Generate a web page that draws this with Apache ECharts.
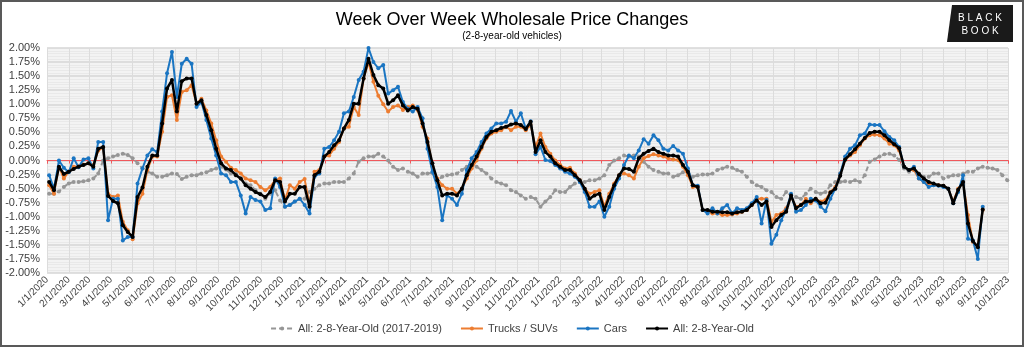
<!DOCTYPE html>
<html><head><meta charset="utf-8">
<script src="https://cdn.jsdelivr.net/npm/echarts@6/dist/echarts.min.js"></script>
<style>html,body{margin:0;padding:0;background:#fff}#c{width:1024px;height:347px}</style>
</head><body><div id="c"></div>
<script>
// Weekly observations, first week ending 2020-01-04
const firstWeekUTC = Date.UTC(2020, 0, 4);
const axisStart = Date.UTC(2020, 0, 1);
const axisEnd = Date.UTC(2023, 9, 1);

const seriesNames = ['All: 2-8-Year-Old (2017-2019)', 'Trucks / SUVs', 'Cars', 'All: 2-8-Year-Old'];
const yTicks = { min: -2, max: 2, step: 0.25 };

const allPrior = [
-0.59,-0.59,-0.55,-0.47,-0.41,-0.38,-0.38,-0.37,-0.35,-0.32,
-0.23,0.00,0.04,0.07,0.10,0.12,0.10,0.04,-0.05,-0.14,
-0.20,-0.23,-0.29,-0.29,-0.26,-0.23,-0.24,-0.33,-0.29,-0.26,
-0.26,-0.23,-0.21,-0.17,-0.14,-0.11,-0.16,-0.23,-0.23,-0.32,
-0.41,-0.44,-0.53,-0.59,-0.68,-0.59,-0.53,-0.71,-0.82,-0.79,
-0.73,-0.68,-0.68,-0.56,-0.50,-0.44,-0.41,-0.41,-0.38,-0.38,
-0.38,-0.32,-0.23,-0.02,0.04,0.07,0.07,0.12,0.07,0.00,
-0.11,-0.17,-0.14,-0.20,-0.23,-0.29,-0.23,-0.23,-0.22,-0.35,
-0.29,-0.26,-0.25,-0.23,-0.17,-0.11,-0.09,-0.11,-0.17,-0.23,
-0.32,-0.38,-0.41,-0.44,-0.53,-0.56,-0.62,-0.68,-0.65,-0.68,
-0.82,-0.73,-0.65,-0.53,-0.56,-0.56,-0.47,-0.41,-0.38,-0.38,
-0.35,-0.35,-0.32,-0.26,-0.08,0.00,0.04,0.09,0.07,0.09,
0.07,-0.02,-0.11,-0.17,-0.20,-0.23,-0.23,-0.29,-0.26,-0.21,
-0.20,-0.29,-0.26,-0.25,-0.25,-0.23,-0.17,-0.14,-0.11,-0.13,
-0.17,-0.20,-0.29,-0.38,-0.44,-0.47,-0.53,-0.56,-0.65,-0.68,
-0.56,-0.62,-0.65,-0.68,-0.59,-0.50,-0.56,-0.59,-0.56,-0.44,
-0.38,-0.38,-0.37,-0.38,-0.35,-0.38,-0.26,-0.02,0.02,0.07,
0.11,0.12,0.09,0.01,-0.14,-0.20,-0.17,-0.23,-0.29,-0.29,
-0.23,-0.23,-0.32,-0.29,-0.26,-0.26,-0.23,-0.20,-0.20,-0.14,
-0.11,-0.13,-0.14,-0.17,-0.26,-0.35
];

const trucks = [
-0.44,-0.59,-0.11,-0.32,-0.20,-0.11,-0.10,-0.07,-0.05,-0.08,
0.18,0.23,-0.59,-0.65,-0.62,-1.09,-1.24,-1.40,-0.76,-0.59,
-0.17,0.07,0.07,0.51,1.13,1.16,0.72,1.22,1.25,1.34,
1.01,1.10,0.89,0.66,0.36,0.07,-0.02,-0.13,-0.17,-0.23,
-0.32,-0.35,-0.38,-0.47,-0.53,-0.47,-0.35,-0.32,-0.70,-0.44,
-0.50,-0.38,-0.33,-0.79,-0.20,-0.17,0.07,0.09,0.21,0.33,
0.57,0.60,0.95,0.81,1.46,1.75,1.40,1.15,1.00,0.87,
0.95,0.98,0.90,0.95,0.98,0.90,0.60,0.39,-0.10,-0.32,
-0.44,-0.50,-0.50,-0.59,-0.50,-0.32,-0.14,0.00,0.21,0.39,
0.48,0.51,0.54,0.60,0.54,0.60,0.60,0.54,0.63,0.24,
0.48,0.24,0.12,0.00,-0.08,-0.14,-0.13,-0.23,-0.35,-0.50,
-0.59,-0.56,-0.53,-0.82,-0.59,-0.41,-0.26,-0.23,-0.26,-0.32,
-0.11,0.04,0.08,0.11,0.09,0.07,0.04,0.02,0.01,-0.11,
-0.26,-0.47,-0.47,-0.88,-0.91,-0.94,-0.94,-0.97,-0.97,-0.96,
-0.94,-0.91,-0.88,-0.79,-0.68,-0.68,-0.68,-1.09,-0.97,-0.94,
-0.85,-0.65,-0.82,-0.79,-0.68,-0.76,-0.68,-0.73,-0.70,-0.56,
-0.47,-0.23,0.01,0.09,0.15,0.27,0.39,0.45,0.46,0.45,
0.39,0.30,0.27,0.18,-0.11,-0.17,-0.17,-0.32,-0.38,-0.41,
-0.44,-0.44,-0.45,-0.50,-0.73,-0.50,-0.38,-0.97,-1.45,-1.53,
-0.88
];

const cars = [
-0.26,-0.50,0.00,-0.13,-0.21,0.04,-0.12,0.02,0.04,-0.14,
0.33,0.33,-1.06,-0.68,-0.68,-1.42,-1.36,-1.36,-0.41,-0.14,
0.09,0.20,0.15,0.87,1.55,1.93,1.13,1.72,1.81,1.72,
0.95,1.04,0.72,0.39,0.09,-0.23,-0.26,-0.38,-0.38,-0.62,
-0.94,-0.65,-0.70,-0.73,-0.88,-0.85,-0.32,-0.47,-0.82,-0.79,
-0.73,-0.68,-0.79,-0.94,-0.29,-0.23,0.21,0.24,0.36,0.51,
0.84,0.87,1.13,1.43,1.58,2.00,1.75,1.64,1.70,1.19,
1.25,1.31,1.04,0.92,0.87,0.95,0.75,0.21,-0.20,-0.47,
-1.06,-0.62,-0.68,-0.79,-0.59,-0.17,0.04,0.15,0.33,0.48,
0.57,0.66,0.66,0.69,0.88,0.69,0.84,0.57,0.70,0.11,
0.24,0.01,-0.01,-0.08,-0.14,-0.20,-0.23,-0.29,-0.38,-0.56,
-0.82,-0.82,-0.73,-1.00,-0.82,-0.50,-0.32,-0.08,0.09,0.04,
0.18,0.38,0.30,0.45,0.36,0.21,0.18,0.26,0.18,0.12,
-0.14,-0.44,-0.45,-0.88,-0.94,-0.85,-0.94,-0.85,-0.79,-0.94,
-0.85,-0.88,-0.85,-0.76,-0.65,-1.12,-0.70,-1.48,-1.32,-1.06,
-0.88,-0.59,-0.91,-0.88,-0.79,-0.68,-0.71,-0.82,-0.90,-0.68,
-0.50,-0.23,0.07,0.21,0.27,0.45,0.48,0.64,0.63,0.63,
0.52,0.42,0.36,0.24,-0.11,-0.17,-0.11,-0.32,-0.38,-0.47,
-0.44,-0.45,-0.47,-0.50,-0.76,-0.56,-0.26,-1.39,-1.42,-1.75,
-0.82
];

const allVeh = [
-0.38,-0.53,-0.11,-0.24,-0.20,-0.15,-0.11,-0.08,-0.05,-0.11,
0.21,0.24,-0.63,-0.72,-0.76,-1.15,-1.27,-1.36,-0.65,-0.48,
-0.11,0.09,0.09,0.66,1.28,1.43,0.87,1.41,1.46,1.46,
1.01,1.07,0.81,0.54,0.21,-0.05,-0.14,-0.17,-0.26,-0.32,
-0.44,-0.50,-0.56,-0.60,-0.65,-0.56,-0.35,-0.38,-0.73,-0.59,
-0.59,-0.47,-0.47,-0.82,-0.26,-0.20,0.07,0.15,0.27,0.36,
0.57,0.72,1.01,1.01,1.46,1.81,1.52,1.34,1.28,1.01,
1.07,1.16,0.98,0.89,0.95,0.92,0.66,0.33,-0.05,-0.35,
-0.62,-0.59,-0.59,-0.62,-0.50,-0.26,-0.08,0.07,0.24,0.42,
0.51,0.54,0.58,0.60,0.64,0.66,0.63,0.56,0.69,0.15,
0.36,0.15,0.07,-0.05,-0.11,-0.17,-0.17,-0.26,-0.35,-0.50,
-0.68,-0.62,-0.59,-0.88,-0.65,-0.44,-0.26,-0.14,-0.15,-0.20,
0.04,0.12,0.17,0.21,0.15,0.12,0.09,0.09,0.07,-0.08,
-0.20,-0.44,-0.47,-0.88,-0.88,-0.91,-0.91,-0.92,-0.92,-0.94,
-0.92,-0.91,-0.88,-0.79,-0.71,-0.79,-0.73,-1.18,-1.06,-0.97,
-0.91,-0.62,-0.85,-0.79,-0.73,-0.73,-0.68,-0.76,-0.75,-0.57,
-0.50,-0.27,0.02,0.11,0.20,0.30,0.40,0.49,0.51,0.51,
0.45,0.36,0.29,0.22,-0.11,-0.17,-0.14,-0.24,-0.32,-0.38,
-0.41,-0.44,-0.45,-0.50,-0.76,-0.52,-0.38,-1.12,-1.43,-1.54,
-0.87
];

const WEEK = 7 * 86400000;
function toPairs(arr) { return arr.map((v, i) => [firstWeekUTC + i * WEEK, v]); }

const chart = echarts.init(document.getElementById('c'), null, { renderer: 'canvas' });
const MONTH_MIN = 28 * 86400000, MONTH_MAX = 31 * 86400000;
const sans = 'Liberation Sans, Arial, sans-serif';

function lineSeries(name, data, color, width, dashed, z) {
  return {
    name, type: 'line', data: toPairs(data), z,
    symbol: 'circle', symbolSize: 4, showSymbol: true,
    itemStyle: { color },
    lineStyle: { color, width, type: dashed ? [5, 3] : 'solid' },
    emphasis: { disabled: true }
  };
}

chart.setOption({
  useUTC: true,
  animation: false,
  backgroundColor: '#ffffff',
  title: [
    { text: 'Week Over Week Wholesale Price Changes', left: 'center', top: 6,
      textStyle: { fontFamily: sans, fontSize: 18, fontWeight: 'normal', color: '#000' } },
    { text: '(2-8-year-old vehicles)', left: 'center', top: 26,
      textStyle: { fontFamily: sans, fontSize: 10, fontWeight: 'normal', color: '#000' } }
  ],
  grid: { left: 47, right: 16, top: 48, bottom: 74, show: true, backgroundColor: '#f3f3f3', borderWidth: 0, containLabel: false },
  xAxis: [
    { type: 'time', min: axisStart, max: axisEnd, position: 'bottom',
      minInterval: MONTH_MIN, maxInterval: MONTH_MAX, splitNumber: 46,
      axisLine: { show: false, onZero: false }, axisTick: { show: false },
      splitLine: { show: true, lineStyle: { color: '#dcdcdc', width: 1 } },
      axisLabel: { rotate: 45, formatter: '{M}/{d}/{yyyy}', fontFamily: sans, fontSize: 10, color: '#404040',
        margin: 5, hideOverlap: false, showMinLabel: true, showMaxLabel: true, interval: 0 } },
    { type: 'time', min: axisStart, max: axisEnd, position: 'top',
      minInterval: MONTH_MIN, maxInterval: MONTH_MAX, splitNumber: 46,
      axisLine: { show: true, onZero: true, lineStyle: { color: '#f0585c', width: 1 } },
      axisTick: { show: true, inside: true, length: 3, lineStyle: { color: '#f0585c' } },
      axisLabel: { show: false }, splitLine: { show: false } }
  ],
  yAxis: {
    type: 'value', min: yTicks.min, max: yTicks.max, interval: yTicks.step,
    axisLine: { show: false }, axisTick: { show: false },
    axisLabel: { formatter: v => v.toFixed(2) + '%', fontFamily: sans, fontSize: 11, color: '#404040', margin: 7 },
    splitLine: { lineStyle: { color: '#d6d6d6', width: 1.5 } },
    minorTick: { show: false, splitNumber: 5 },
    minorSplitLine: { show: true, lineStyle: { color: '#e9e9e9', width: 1 } }
  },
  legend: {
    bottom: 8, left: 'center', itemWidth: 22, itemHeight: 5, itemGap: 18,
    textStyle: { fontFamily: sans, fontSize: 11, color: '#404040' },
    data: seriesNames
  },
  series: [
    lineSeries(seriesNames[0], allPrior, '#969696', 2, true, 2),
    lineSeries(seriesNames[1], trucks, '#ed7d31', 2, false, 3),
    lineSeries(seriesNames[2], cars, '#1a75c2', 2, false, 4),
    lineSeries(seriesNames[3], allVeh, '#000000', 2.5, false, 5)
  ],
  graphic: [
    { type: 'rect', shape: { x: 1, y: 1, width: 1022, height: 345 }, style: { fill: 'none', stroke: '#595959', lineWidth: 2 }, silent: true, z: 100 },
    { type: 'polygon', shape: { points: [[952, 5], [1013, 5], [1013, 42], [947, 42]] }, style: { fill: '#1a1a1a' }, silent: true, z: 100 },
    { type: 'text', x: 980, y: 18, style: { text: 'B L A C K', fill: '#ffffff', font: '10px ' + sans, textAlign: 'center', textVerticalAlign: 'middle' }, z: 101 },
    { type: 'text', x: 980, y: 31, style: { text: 'B O O K', fill: '#ffffff', font: '10px ' + sans, textAlign: 'center', textVerticalAlign: 'middle' }, z: 101 }
  ]
});
</script>
</body></html>
